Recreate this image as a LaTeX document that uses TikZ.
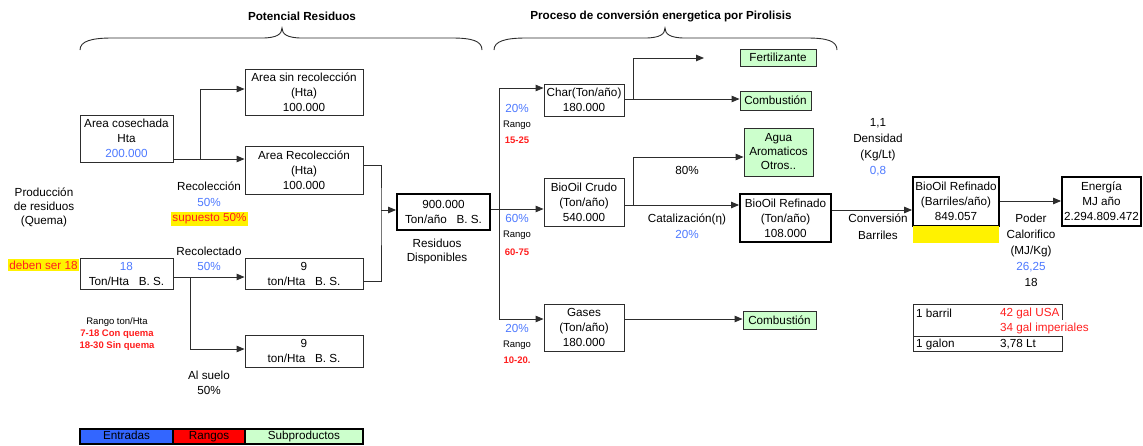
\documentclass[tikz,border=0pt]{standalone}
\usepackage{fontspec}
\setmainfont{Liberation Sans}
\usetikzlibrary{arrows.meta}
\definecolor{entrada}{RGB}{77,121,255}
\definecolor{rango}{RGB}{255,30,30}
\definecolor{legazul}{RGB}{51,102,255}
\definecolor{subprod}{RGB}{204,255,204}
\definecolor{linea}{RGB}{45,45,45}
\tikzstyle{conector} = [line width=0.9pt,draw=linea,-{Triangle[length=8pt,width=6.5pt]}]
\tikzstyle{caja} = [draw=linea,line width=0.9pt,align=center,inner sep=1pt]
\tikzstyle{cajaref} = [draw=black,line width=1.8pt,align=center,inner sep=1pt]
\tikzstyle{subp} = [caja,fill=subprod]
\tikzstyle{chico} = [font=\fontsize{9.5}{12}\selectfont]
\tikzstyle{rng} = [font=\fontsize{9.5}{12}\selectfont\bfseries,text=rango]
\tikzstyle{leyenda} = [draw=black,line width=1.2pt,minimum height=15pt,inner sep=0pt,text height=8.5pt,text depth=2.5pt]

\begin{document}
\begin{tikzpicture}[x=1pt,y=-1pt,font=\fontsize{11.7}{15}\selectfont]
        \useasboundingbox (0,0) rectangle (1143,445);
        % titulos y llaves
        \node[font=\fontsize{11.7}{15}\selectfont\bfseries] (titpot) at (302,16) {Potencial Residuos};
        \node[font=\fontsize{11.7}{15}\selectfont\bfseries] (titpir) at (661,16) {Proceso de conversión energetica por Pirolisis};
        \draw[linea,line width=0.9pt] (80,50) .. controls (80,41) and (92,38) .. (112,38) -- (262,38) .. controls (277,38) and (282,34) .. (282,28) .. controls (282,34) and (287,38) .. (302,38) -- (452,38) .. controls (472,38) and (482,41) .. (482,50);
        \draw[linea,line width=0.9pt] (494,50) .. controls (494,41) and (506,38) .. (526,38) -- (645,38) .. controls (660,38) and (665,34) .. (665,28) .. controls (665,34) and (670,38) .. (685,38) -- (807,38) .. controls (827,38) and (837,41) .. (837,50);
        % potencial residuos
        \node[caja,minimum width=93pt,minimum height=47pt] (cos) at (126.5,138.5) {Area cosechada\\Hta\\\textcolor{entrada}{200.000}};
        \node[caja,minimum width=118pt,minimum height=46pt] (sinrec) at (304,92) {Area sin recolección\\(Hta)\\100.000};
        \node[caja,minimum width=118pt,minimum height=48pt] (recol) at (304,170) {Area Recolección\\(Hta)\\100.000};
        \node[caja,minimum width=93pt,minimum height=31pt] (ton18) at (126.5,273.5) {\textcolor{entrada}{18}\\Ton/Hta\ \ \ B. S.};
        \node[caja,minimum width=118pt,minimum height=31pt] (reco9) at (304,273.5) {9\\ton/Hta\ \ \ B. S.};
        \node[caja,minimum width=118pt,minimum height=32pt] (suelo9) at (304,351) {9\\ton/Hta\ \ \ B. S.};
        \node[cajaref,minimum width=93pt,minimum height=36pt] (disp) at (443.5,212) {900.000\\Ton/año\ \ \ B. S.};
        \node[align=center,font=\fontsize{11.7}{14}\selectfont] (prod) at (44,207) {Producción\\de residuos\\(Quema)};
        \node[align=center,font=\fontsize{11.7}{16}\selectfont] (recolecc) at (209,194) {Recolección\\\textcolor{entrada}{50\%}};
        \node[fill=yellow,text=rango,inner sep=1.5pt] (supuesto) at (209.5,219) {supuesto 50\%};
        \node[fill=yellow,text=rango,inner sep=1.5pt] (deben) at (43.5,265) {deben ser 18};
        \node[align=center] (recolect) at (209,258.5) {Recolectado\\\textcolor{entrada}{50\%}};
        \node[chico,align=center] (rgton) at (117,322) {Rango ton/Hta};
        \node[rng,align=center] (rgquema) at (117,340) {7-18 Con quema\\18-30 Sin quema};
        \node[align=center] (alsuelo) at (209,382.5) {Al suelo\\50\%};
        \node[align=center,font=\fontsize{11.7}{13.5}\selectfont] (resdisp) at (437,251.5) {Residuos\\Disponibles};
        % pirolisis
        \node[caja,minimum width=80pt,minimum height=32pt] (char) at (584,100) {Char(Ton/año)\\180.000};
        \node[caja,minimum width=80pt,minimum height=48pt] (crudo) at (584,202) {BioOil Crudo\\(Ton/año)\\540.000};
        \node[caja,minimum width=80pt,minimum height=47pt] (gases) at (584,327.5) {Gases\\(Ton/año)\\180.000};
        \node[text=entrada] (pchar) at (517,108) {20\%};
        \node[chico] (rgchar) at (517,125) {Rango};
        \node[rng] (vchar) at (517,140) {15-25};
        \node[text=entrada] (pcrudo) at (517,218) {60\%};
        \node[chico] (rgcrudo) at (517,235) {Rango};
        \node[rng] (vcrudo) at (517,252) {60-75};
        \node[text=entrada] (pgases) at (517,328) {20\%};
        \node[chico] (rggases) at (517,345) {Rango};
        \node[rng] (vgases) at (517,360) {10-20.};
        \node[subp,minimum width=76pt,minimum height=17pt] (fert) at (778,57.5) {Fertilizante};
        \node[subp,minimum width=71pt,minimum height=19pt] (comb1) at (775.5,100.5) {Combustión};
        \node[subp,minimum width=69pt,minimum height=48pt,font=\fontsize{11.7}{14}\selectfont] (agua) at (778.5,152) {Agua\\Aromaticos\\Otros..};
        \node[subp,minimum width=73pt,minimum height=18pt] (comb2) at (779.5,320) {Combustión};
        \node (p80) at (687,170) {80\%};
        \node[align=center,font=\fontsize{11.7}{16}\selectfont] (catal) at (687,226) {Catalización(η)\\\textcolor{entrada}{20\%}};
        \node[cajaref,minimum width=91pt,minimum height=48pt] (refton) at (785.5,218) {BioOil Refinado\\(Ton/año)\\108.000};
        % conversion a energia
        \node[align=center,font=\fontsize{11.7}{16}\selectfont] (dens) at (878,147) {1,1\\Densidad\\(Kg/Lt)\\\textcolor{entrada}{0,8}};
        \node[align=center,font=\fontsize{11.7}{17}\selectfont] (convbar) at (878,226.5) {Conversión\\Barriles};
        \node[cajaref,minimum width=86pt,minimum height=49pt] (refbar) at (956,201.5) {BioOil Refinado\\(Barriles/año)\\849.057};
        \node[fill=yellow,minimum width=86pt,minimum height=17pt,inner sep=0pt] (marca) at (956,234.5) {};
        \node[cajaref,minimum width=79pt,minimum height=49pt] (energia) at (1101.5,201.5) {Energía\\MJ año\\2.294.809.472};
        \node[align=center,font=\fontsize{11.7}{16}\selectfont] (poder) at (1031,250) {Poder\\Calorifico\\(MJ/Kg)\\\textcolor{entrada}{26,25}\\18};
        % tabla de conversion
        \draw[linea,line width=0.9pt] (1062,320) -- (1062,304) -- (913,304) -- (913,351) -- (1062,351) -- (1062,336) -- (913,336);
        \node[anchor=west,inner sep=0pt] (barril) at (916,313) {1 barril};
        \node[anchor=west,inner sep=0pt,text=rango] (galusa) at (1000,313) {42 gal USA};
        \node[anchor=west,inner sep=0pt,text=rango] (galimp) at (1000,328) {34 gal imperiales};
        \node[anchor=west,inner sep=0pt] (galon) at (916,344) {1 galon};
        \node[anchor=west,inner sep=0pt] (litros) at (1000,344) {3,78 Lt};
        % leyenda
        \node[leyenda,fill=legazul,minimum width=93pt] (leg1) at (126.5,436.5) {Entradas};
        \node[leyenda,fill=red,minimum width=72pt] (leg2) at (209,436.5) {Rangos};
        \node[leyenda,fill=subprod,minimum width=118pt] (leg3) at (304,436.5) {Subproductos};
        % conectores
        \coordinate (jcos) at (200,159);
        \coordinate (jton) at (190,277);
        \coordinate (jdisp) at (381,210);
        \coordinate (jpir) at (499,209);
        \coordinate (jchar) at (633,99);
        \coordinate (jcrudo) at (633,205);
        \coordinate (fertfin) at (704,58);
        \draw[conector] (cos.east |- jcos) -- (recol.west |- jcos);
        \draw[conector] (jcos) |- (sinrec.west |- 0,89);
        \draw[conector] (ton18.east |- jton) -- (reco9.west |- jton);
        \draw[conector] (jton) |- (suelo9.west |- 0,349);
        \draw[line width=0.9pt,linea] (recol.east |- 0,165) -| (jdisp) |- (reco9.east |- 0,281);
        \draw[conector] (jdisp) -- (disp.west |- jdisp);
        \draw[conector] (disp.east |- jpir) -- (crudo.west |- jpir);
        \draw[conector] (jpir) |- (char.west |- 0,88);
        \draw[conector] (jpir) |- (gases.west |- 0,319);
        \draw[conector] (char.east |- jchar) -- (comb1.west |- jchar);
        \draw[conector] (jchar) |- (fertfin);
        \draw[conector] (crudo.east |- jcrudo) -- (refton.west |- jcrudo);
        \draw[conector] (jcrudo) |- (agua.west |- 0,157);
        \draw[conector] (gases.east |- 0,319) -- (comb2.west |- 0,319);
        \draw[conector] (refton.east |- 0,210) -- (refbar.west |- 0,210);
        \draw[conector] (refbar.east |- 0,201) -- (energia.west |- 0,201);
\end{tikzpicture}
\end{document}
